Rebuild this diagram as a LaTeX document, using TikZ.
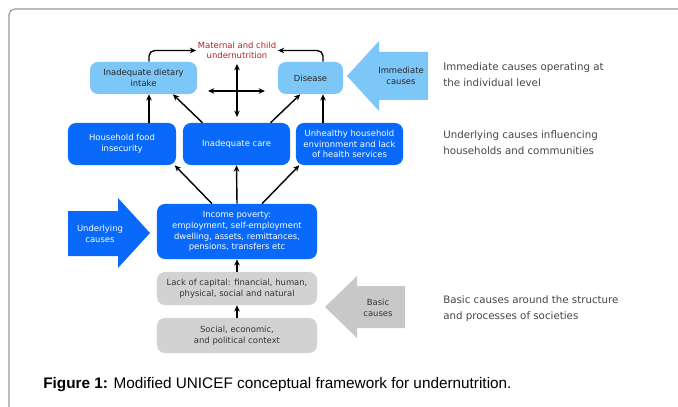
\documentclass[tikz,border=0pt]{standalone}
\usepackage{fontspec}
\setmainfont{DejaVu Sans}
\newfontfamily\capfont{Liberation Sans}
\usetikzlibrary{arrows.meta}

\definecolor{lightblue}{RGB}{125,198,248}
\definecolor{darkblue}{RGB}{8,105,250}
\definecolor{boxgray}{RGB}{210,210,210}
\definecolor{arrowgray}{RGB}{200,200,200}
\definecolor{framegray}{RGB}{150,150,150}
\definecolor{notegray}{RGB}{68,68,68}
\definecolor{matred}{RGB}{178,34,34}

\tikzset{
	boxtext/.style={align=center, inner sep=1pt, font=\fontsize{6}{7.6}\selectfont},
	lbox/.style={boxtext, fill=lightblue, rounded corners=0.2cm, text=black!85, minimum height=0.8cm},
	dbox/.style={boxtext, fill=darkblue, rounded corners=0.2cm, text=white, minimum height=1.05cm},
	gbox/.style={boxtext, fill=boxgray, rounded corners=0.2cm, text=black!80, minimum width=4cm},
	arr/.style={-{Stealth[length=4.5pt,width=4pt]}, line width=1pt},
	arrboth/.style={{Stealth[length=4.5pt,width=4pt]}-{Stealth[length=4.5pt,width=4pt]}, line width=1pt},
	note/.style={anchor=west, align=left, inner sep=0pt, text=notegray, font=\fontsize{7.3}{11.4}\selectfont}
}

\begin{document}
\begin{tikzpicture}[x=0.025cm, y=-0.025cm]
		
		\useasboundingbox (0,0) rectangle (678,407);
		
		% Frame
		\draw[framegray, line width=0.8pt, rounded corners=4pt] (9,407) -- (9,9) -- (678,9);
		
		% Block arrows
		\fill[lightblue] (347,76) -- (379,41) -- (379,52) -- (428,52) -- (428,100) -- (379,100) -- (379,111) -- cycle;
		
		\node[boxtext, text=black!85] (immediate) at (401,76) {Immediate\\causes};
		
		\fill[darkblue] (150,233) -- (118,198) -- (118,211) -- (68,211) -- (68,256) -- (118,256) -- (118,268) -- cycle;
		
		\node[boxtext, text=white] (underlying) at (100,234) {Underlying\\causes};
		
		\fill[arrowgray] (325,307) -- (357,276) -- (357,286) -- (405,286) -- (405,328) -- (357,328) -- (357,338) -- cycle;
		
		\node[boxtext, text=black!80] (basic) at (378,308) {Basic\\causes};
		
		% Immediate causes
		\node[text=matred,
		boxtext] (mat) at (237,50.5) {Maternal and child\\undernutrition};
		
		\node[lbox,
		minimum width=2.675cm] (diet) at (143.5,78) {Inadequate dietary\\intake};
		
		\node[lbox,
		minimum width=1.625cm] (disease) at (310.5,78) {Disease};
		
		% Underlying causes
		\node[dbox,
		minimum width=2.7cm] (food) at (122,144) {Household food\\insecurity};
		
		\node[dbox,
		minimum width=2.675cm] (care) at (236.5,144) {Inadequate care};
		
		\node[dbox,
		minimum width=2.675cm] (unhealthy) at (349.5,144) {Unhealthy household\\environment and lack\\of health services};
		
		\node[dbox,
		minimum width=4cm,
		minimum height=1.375cm] (income) at (237,231.5) {Income poverty:\\employment, self-employment\\dwelling, assets, remittances,\\pensions, transfers etc};
		
		% Basic causes
		\node[gbox,
		minimum height=0.825cm] (capital) at (237,288.5) {Lack of capital: financial, human,\\physical, social and natural};
		
		\node[gbox,
		minimum height=0.875cm] (context) at (237,335.5) {Social, economic,\\and political context};
		
		% Connectors
		\draw[arr, rounded corners=4pt] ([xshift=0.1375cm]diet.north) |- (mat.west);
		\draw[arr, rounded corners=4pt] ([xshift=0.3125cm]disease.north) |- (mat.east);
		
		\coordinate (xtop) at (237,64);
		\coordinate (xbottom) at (237,117);
		\coordinate (xleft) at (208,91);
		\coordinate (xright) at (265,91);
		\draw[arrboth] (xtop) -- (xbottom);
		\draw[arrboth] (xleft) -- (xright);
		
		\draw[arr] ([xshift=0.1375cm]diet.south |- food.north) -- ([xshift=0.1375cm]diet.south);
		\draw[arr] (care.148) -- (diet.-29);
		\draw[arr] (care.32) -- (disease.238);
		\draw[arr] ([xshift=0.3125cm]disease.south |- unhealthy.north) -- ([xshift=0.3125cm]disease.south);
		
		\draw[arr] (income.132) -- (food.-22);
		\draw[arr] (income.north) -- (care.south);
		\draw[arr] (income.48) -- (unhealthy.203);
		
		\draw[arr] (capital.north) -- (income.south);
		\draw[arr] (context.north) -- (capital.south);
		
		% Notes
		\node[note] (n1) at (443,75) {Immediate causes operating at\\the individual level};
		
		\node[note] (n2) at (443,142.5) {Underlying causes influencing\\households and communities};
		
		\node[note] (n3) at (443,308.5) {Basic causes around the structure\\and processes of societies};
		
		% Caption
		\node[anchor=west,
		inner sep=0pt,
		font=\capfont\fontsize{10.9}{13}\selectfont] (caption) at (43,385) {\textbf{Figure 1:} Modified UNICEF conceptual framework for undernutrition.};
		
	\end{tikzpicture}
\end{document}
